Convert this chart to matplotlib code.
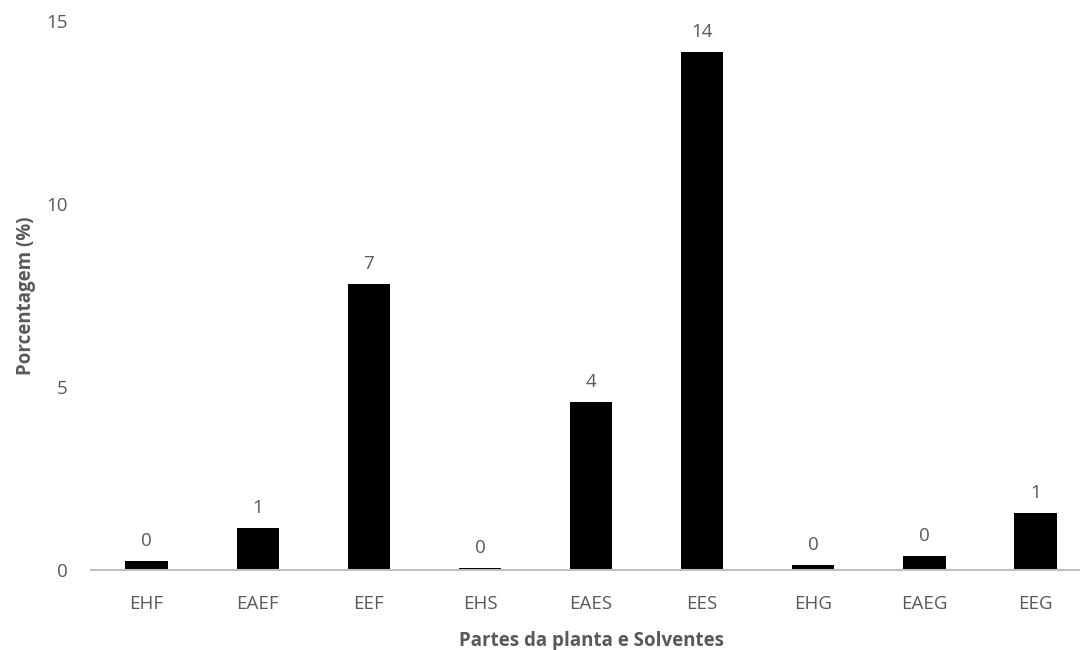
import matplotlib.pyplot as plt

# extract codes and their yields (%)
categories = ["EHF", "EAEF", "EEF", "EHS", "EAES", "EES", "EHG", "EAEG", "EEG"]
values = [0.25, 1.16, 7.82, 0.05, 4.59, 14.14, 0.13, 0.38, 1.55]
yticks = [0, 5, 10, 15]

plt.rcParams['font.family'] = ['Open Sans', 'DejaVu Sans']
grey = "#595959"
fs = 13.5

fig = plt.figure(figsize=(10.8, 6.5), dpi=100)
ax = fig.add_axes([0.0843, 0.123, 0.926, 0.845])

x = range(len(categories))
bars = ax.bar(x, values, width=0.38, color="black", zorder=2)

# labels show the whole part of each value
for b, v in zip(bars, values):
    ax.text(b.get_x() + b.get_width() / 2, v + 0.3, str(int(v)),
            ha="center", va="bottom", fontsize=fs, color=grey)

ax.set_xlim(-0.5, len(categories) - 0.5)
ax.set_ylim(0, 15)
ax.set_yticks(yticks)
ax.set_xticks(list(x))
ax.set_xticklabels(categories)

for side in ["top", "right", "left"]:
    ax.spines[side].set_visible(False)
ax.spines["bottom"].set_color("#bfbfbf")
ax.spines["bottom"].set_linewidth(1.5)

ax.tick_params(axis="x", length=0, pad=18, labelsize=fs, labelcolor=grey)
ax.tick_params(axis="y", length=0, pad=17, labelsize=fs, labelcolor=grey)

ax.set_xlabel("Partes da planta e Solventes", fontsize=fs, fontweight="bold",
              color=grey, labelpad=13)
ax.set_ylabel("Porcentagem (%)", fontsize=fs, fontweight="bold", color=grey,
              labelpad=7)

fig.savefig("out.png", dpi=100)
